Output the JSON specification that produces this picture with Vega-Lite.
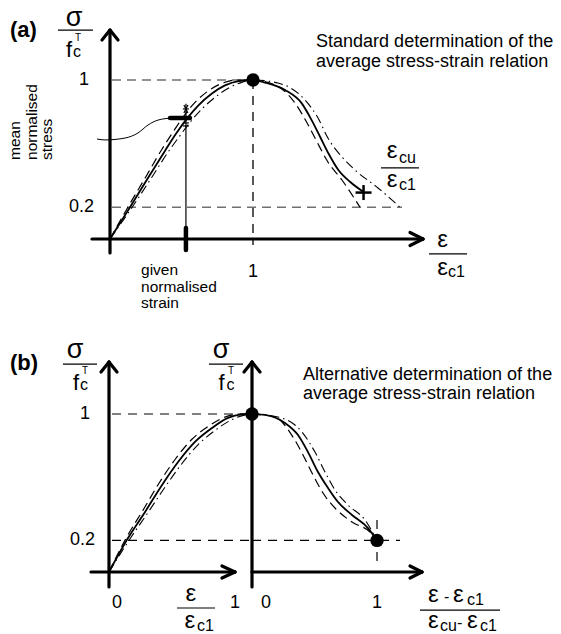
{
"$schema": "https://vega.github.io/schema/vega-lite/v6.json",
"padding": 0,
"spacing": 0,
"bounds": "flush",
"config": {"view": {"stroke": null}, "font": "Liberation Sans", "text": {"font": "Liberation Sans", "color": "black"}},
"datasets": {
"a_curve": [
{"s":"solid","x":0,"y":0},{"s":"solid","x":0.14,"y":0.2},{"s":"solid","x":0.27,"y":0.39},{"s":"solid","x":0.385,"y":0.555},{"s":"solid","x":0.46,"y":0.66},{"s":"solid","x":0.538,"y":0.757},{"s":"solid","x":0.615,"y":0.838},{"s":"solid","x":0.713,"y":0.915},{"s":"solid","x":0.804,"y":0.966},{"s":"solid","x":0.9,"y":0.993},{"s":"solid","x":1,"y":1},{"s":"solid","x":1.084,"y":0.984},{"s":"solid","x":1.224,"y":0.937},{"s":"solid","x":1.341,"y":0.853},{"s":"solid","x":1.41,"y":0.748},{"s":"solid","x":1.469,"y":0.643},{"s":"solid","x":1.527,"y":0.539},{"s":"solid","x":1.597,"y":0.434},{"s":"solid","x":1.678,"y":0.36},{"s":"solid","x":1.771,"y":0.297},
{"s":"dash","x":0,"y":0},{"s":"dash","x":0.125,"y":0.2},{"s":"dash","x":0.25,"y":0.39},{"s":"dash","x":0.36,"y":0.56},{"s":"dash","x":0.435,"y":0.665},{"s":"dash","x":0.51,"y":0.765},{"s":"dash","x":0.585,"y":0.85},{"s":"dash","x":0.685,"y":0.93},{"s":"dash","x":0.785,"y":0.98},{"s":"dash","x":0.89,"y":1.0},{"s":"dash","x":1,"y":1},{"s":"dash","x":1.154,"y":0.969},{"s":"dash","x":1.294,"y":0.855},{"s":"dash","x":1.378,"y":0.73},{"s":"dash","x":1.448,"y":0.61},{"s":"dash","x":1.524,"y":0.484},{"s":"dash","x":1.622,"y":0.371},{"s":"dash","x":1.748,"y":0.2},
{"s":"dot","x":0,"y":0},{"s":"dot","x":0.155,"y":0.2},{"s":"dot","x":0.29,"y":0.385},{"s":"dot","x":0.405,"y":0.545},{"s":"dot","x":0.485,"y":0.645},{"s":"dot","x":0.565,"y":0.74},{"s":"dot","x":0.645,"y":0.82},{"s":"dot","x":0.74,"y":0.895},{"s":"dot","x":0.83,"y":0.95},{"s":"dot","x":0.92,"y":0.985},{"s":"dot","x":1,"y":1},{"s":"dot","x":1.175,"y":0.981},{"s":"dot","x":1.364,"y":0.874},{"s":"dot","x":1.455,"y":0.761},{"s":"dot","x":1.524,"y":0.635},{"s":"dot","x":1.622,"y":0.516},{"s":"dot","x":1.713,"y":0.434},{"s":"dot","x":1.874,"y":0.321},{"s":"dot","x":2.028,"y":0.2}
],
"a_thick": [
{"x":0,"y":-0.088,"x2":0,"y2":1.314},
{"x":-0.126,"y":0,"x2":2.189,"y2":0},
{"x":-0.056,"y":1.252,"x2":0,"y2":1.314},
{"x":0.056,"y":1.252,"x2":0,"y2":1.314},
{"x":2.098,"y":0.041,"x2":2.189,"y2":0},
{"x":2.098,"y":-0.041,"x2":2.189,"y2":0}
],
"a_gray": [
{"x":0.014,"y":1,"x2":1,"y2":1},
{"x":0.014,"y":0.2,"x2":2.042,"y2":0.2}
],
"a_bdash": [
{"x":1,"y":1,"x2":1,"y2":-0.038}
],
"a_thin": [
{"x":-0.364,"y":1.314,"x2":-0.119,"y2":1.314},
{"x":1.895,"y":0.447,"x2":2.161,"y2":0.447},
{"x":2.231,"y":-0.094,"x2":2.497,"y2":-0.094},
{"x":0.531,"y":0.85,"x2":0.531,"y2":0},
{"x":0.51,"y":0.818,"x2":0.552,"y2":0.818},
{"x":0.517,"y":0.843,"x2":0.545,"y2":0.792},
{"x":0.545,"y":0.843,"x2":0.517,"y2":0.792},
{"x":0.51,"y":0.73,"x2":0.552,"y2":0.73},
{"x":0.51,"y":0.711,"x2":0.552,"y2":0.711}
],
"a_heavy": [
{"x":0.531,"y":0.069,"x2":0.531,"y2":-0.069},
{"x":0.42,"y":0.761,"x2":0.559,"y2":0.761}
],
"a_plus": [
{"x":1.717,"y":0.292,"x2":1.829,"y2":0.292},
{"x":1.773,"y":0.245,"x2":1.773,"y2":0.339}
],
"a_leader": [
{"x":-0.091,"y":0.629},{"x":-0.035,"y":0.623},{"x":0.105,"y":0.635},{"x":0.196,"y":0.667},{"x":0.266,"y":0.717},{"x":0.336,"y":0.748},{"x":0.434,"y":0.761}
],
"a_dot": [{"x":1,"y":1}],
"a_bold": [{"x":-0.699,"y":1.27,"t":"(a)"}],
"a_sigma": [{"x":-0.252,"y":1.34,"t":"σ"}],
"a_greek": [
{"x":1.972,"y":0.509,"t":"ε"},
{"x":1.972,"y":0.327,"t":"ε"},
{"x":2.325,"y":-0.05,"t":"ε"},
{"x":2.325,"y":-0.226,"t":"ε"}
],
"a_f": [{"x":-0.287,"y":1.145,"t":"f"}],
"a_sub": [
{"x":-0.259,"y":1.145,"t":"c"},
{"x":2.021,"y":0.478,"t":"cu"},
{"x":2.021,"y":0.308,"t":"c1"},
{"x":2.364,"y":-0.239,"t":"c1"}
],
"a_sup": [{"x":-0.245,"y":1.245,"t":"T"}],
"a_tickr": [
{"x":-0.147,"y":1,"t":"1"},
{"x":-0.112,"y":0.2,"t":"0.2"}
],
"a_tickc": [{"x":1,"y":-0.208,"t":"1"}],
"a_caption": [
{"x":1.441,"y":1.208,"t":"Standard determination of the"},
{"x":1.441,"y":1.082,"t":"average stress-strain relation"}
],
"a_given": [
{"x":0.217,"y":-0.226,"t":"given"},
{"x":0.217,"y":-0.333,"t":"normalised"},
{"x":0.217,"y":-0.434,"t":"strain"}
],
"a_mean": [
{"x":-0.629,"y":0.497,"t":"mean"},
{"x":-0.51,"y":0.497,"t":"normalised"},
{"x":-0.406,"y":0.497,"t":"stress"}
],
"bl_curve": [
{"s":"solid","x":0,"y":0},{"s":"solid","x":0.133,"y":0.215},{"s":"solid","x":0.252,"y":0.38},{"s":"solid","x":0.371,"y":0.551},{"s":"solid","x":0.483,"y":0.696},{"s":"solid","x":0.601,"y":0.823},{"s":"solid","x":0.72,"y":0.911},{"s":"solid","x":0.832,"y":0.975},{"s":"solid","x":0.93,"y":0.997},{"s":"solid","x":1,"y":1},
{"s":"dash","x":0,"y":0},{"s":"dash","x":0.12,"y":0.215},{"s":"dash","x":0.237,"y":0.39},{"s":"dash","x":0.352,"y":0.565},{"s":"dash","x":0.462,"y":0.712},{"s":"dash","x":0.58,"y":0.84},{"s":"dash","x":0.7,"y":0.925},{"s":"dash","x":0.815,"y":0.982},{"s":"dash","x":0.92,"y":1.0},{"s":"dash","x":1,"y":1},
{"s":"dot","x":0,"y":0},{"s":"dot","x":0.147,"y":0.21},{"s":"dot","x":0.268,"y":0.37},{"s":"dot","x":0.39,"y":0.535},{"s":"dot","x":0.503,"y":0.678},{"s":"dot","x":0.622,"y":0.805},{"s":"dot","x":0.74,"y":0.895},{"s":"dot","x":0.85,"y":0.96},{"s":"dot","x":0.945,"y":0.993},{"s":"dot","x":1,"y":1}
],
"bl_thick": [
{"x":0,"y":-0.095,"x2":0,"y2":1.329},
{"x":-0.126,"y":0,"x2":0.881,"y2":0},
{"x":-0.056,"y":1.266,"x2":0,"y2":1.329},
{"x":0.056,"y":1.266,"x2":0,"y2":1.329},
{"x":0.79,"y":0.038,"x2":0.881,"y2":0},
{"x":0.79,"y":-0.038,"x2":0.881,"y2":0}
],
"bl_dash": [
{"x":0.021,"y":1,"x2":1,"y2":1},
{"x":0.021,"y":0.2,"x2":1,"y2":0.2}
],
"bl_thin": [
{"x":-0.322,"y":1.316,"x2":-0.084,"y2":1.316},
{"x":0.699,"y":1.316,"x2":0.937,"y2":1.316},
{"x":0.476,"y":-0.228,"x2":0.741,"y2":-0.228}
],
"bl_bold": [{"x":-0.692,"y":1.278,"t":"(b)"}],
"bl_sigma": [
{"x":-0.238,"y":1.354,"t":"σ"},
{"x":0.783,"y":1.354,"t":"σ"}
],
"bl_greek": [
{"x":0.573,"y":-0.184,"t":"ε"},
{"x":0.566,"y":-0.354,"t":"ε"}
],
"bl_f": [
{"x":-0.231,"y":1.152,"t":"f"},
{"x":0.787,"y":1.152,"t":"f"}
],
"bl_sub": [
{"x":-0.203,"y":1.152,"t":"c"},
{"x":0.822,"y":1.152,"t":"c"},
{"x":0.615,"y":-0.373,"t":"c1"}
],
"bl_sup": [
{"x":-0.189,"y":1.253,"t":"T"},
{"x":0.832,"y":1.253,"t":"T"}
],
"bl_tickr": [
{"x":-0.133,"y":1,"t":"1"},
{"x":-0.098,"y":0.2,"t":"0.2"}
],
"bl_tickc": [
{"x":0.056,"y":-0.196,"t":"0"},
{"x":0.881,"y":-0.196,"t":"1"}
],
"br_curve": [
{"s":"solid","x":0,"y":1},{"s":"solid","x":0.104,"y":0.994},{"s":"solid","x":0.264,"y":0.943},{"s":"solid","x":0.368,"y":0.867},{"s":"solid","x":0.448,"y":0.759},{"s":"solid","x":0.528,"y":0.633},{"s":"solid","x":0.608,"y":0.532},{"s":"solid","x":0.688,"y":0.443},{"s":"solid","x":0.8,"y":0.361},{"s":"solid","x":0.928,"y":0.278},{"s":"solid","x":1,"y":0.2},
{"s":"dash","x":0,"y":1},{"s":"dash","x":0.184,"y":0.981},{"s":"dash","x":0.328,"y":0.854},{"s":"dash","x":0.408,"y":0.741},{"s":"dash","x":0.488,"y":0.614},{"s":"dash","x":0.568,"y":0.5},{"s":"dash","x":0.664,"y":0.405},{"s":"dash","x":0.8,"y":0.316},{"s":"dash","x":0.944,"y":0.253},{"s":"dash","x":1,"y":0.2},
{"s":"dot","x":0,"y":1},{"s":"dot","x":0.208,"y":0.981},{"s":"dot","x":0.4,"y":0.886},{"s":"dot","x":0.504,"y":0.759},{"s":"dot","x":0.584,"y":0.633},{"s":"dot","x":0.664,"y":0.519},{"s":"dot","x":0.768,"y":0.424},{"s":"dot","x":0.904,"y":0.329},{"s":"dot","x":1,"y":0.2}
],
"br_thick": [
{"x":0,"y":-0.095,"x2":0,"y2":1.329},
{"x":0,"y":0,"x2":1.36,"y2":0},
{"x":-0.064,"y":1.266,"x2":0,"y2":1.329},
{"x":0.064,"y":1.266,"x2":0,"y2":1.329},
{"x":1.264,"y":0.038,"x2":1.36,"y2":0},
{"x":1.264,"y":-0.038,"x2":1.36,"y2":0}
],
"br_dash": [
{"x":0,"y":0.2,"x2":1.184,"y2":0.2},
{"x":1,"y":0.329,"x2":1,"y2":0.057}
],
"br_thin": [
{"x":1.344,"y":-0.241,"x2":1.984,"y2":-0.241}
],
"br_dots": [{"x":0,"y":1},{"x":1,"y":0.2}],
"br_tickc": [
{"x":0.112,"y":-0.196,"t":"0"},
{"x":1,"y":-0.196,"t":"1"}
],
"br_greek": [
{"x":1.408,"y":-0.19,"t":"ε"},
{"x":1.608,"y":-0.19,"t":"ε"},
{"x":1.408,"y":-0.354,"t":"ε"},
{"x":1.72,"y":-0.354,"t":"ε"}
],
"br_minus": [
{"x":1.536,"y":-0.19,"t":"-"},
{"x":1.64,"y":-0.354,"t":"-"}
],
"br_sub": [
{"x":1.72,"y":-0.209,"t":"c1"},
{"x":1.504,"y":-0.373,"t":"cu"},
{"x":1.824,"y":-0.373,"t":"c1"}
],
"br_caption": [
{"x":0.408,"y":1.215,"t":"Alternative determination of the"},
{"x":0.408,"y":1.095,"t":"average stress-strain relation"}
]
},
"vconcat": [
{
"width": 561,
"height": 310,
"encoding": {
"x": {"field":"x","type":"quantitative","scale":{"domain":[-0.76923,3.15385],"nice":false,"zero":false},"axis":null},
"y": {"field":"y","type":"quantitative","scale":{"domain":[-0.44654,1.50314],"nice":false,"zero":false},"axis":null}
},
"layer": [
{"data":{"name":"a_gray"},"mark":{"type":"rule","color":"#707070","strokeWidth":1.5,"strokeDash":[9,6]},"encoding":{"x2":{"field":"x2"},"y2":{"field":"y2"}}},
{"data":{"name":"a_bdash"},"mark":{"type":"rule","color":"black","strokeWidth":1.3,"strokeDash":[9,7]},"encoding":{"x2":{"field":"x2"},"y2":{"field":"y2"}}},
{"data":{"name":"a_thin"},"mark":{"type":"rule","color":"black","strokeWidth":1.2},"encoding":{"x2":{"field":"x2"},"y2":{"field":"y2"}}},
{"data":{"name":"a_curve"},"transform":[{"filter":"datum.s === 'dash'"}],"mark":{"type":"line","color":"black","strokeWidth":1.2,"strokeDash":[9,5],"interpolate":"monotone"}},
{"data":{"name":"a_curve"},"transform":[{"filter":"datum.s === 'dot'"}],"mark":{"type":"line","color":"black","strokeWidth":1.1,"strokeDash":[9,4,1.5,4],"interpolate":"monotone"}},
{"data":{"name":"a_curve"},"transform":[{"filter":"datum.s === 'solid'"}],"mark":{"type":"line","color":"black","strokeWidth":1.8,"interpolate":"monotone"}},
{"data":{"name":"a_leader"},"mark":{"type":"line","color":"black","strokeWidth":1,"interpolate":"monotone"}},
{"data":{"name":"a_heavy"},"mark":{"type":"rule","color":"black","strokeWidth":4.5,"strokeCap":"round"},"encoding":{"x2":{"field":"x2"},"y2":{"field":"y2"}}},
{"data":{"name":"a_plus"},"mark":{"type":"rule","color":"black","strokeWidth":2.5},"encoding":{"x2":{"field":"x2"},"y2":{"field":"y2"}}},
{"data":{"name":"a_thick"},"mark":{"type":"rule","color":"black","strokeWidth":3.2,"strokeCap":"round"},"encoding":{"x2":{"field":"x2"},"y2":{"field":"y2"}}},
{"data":{"name":"a_dot"},"mark":{"type":"circle","color":"black","opacity":1,"size":180}},
{"data":{"name":"a_bold"},"mark":{"type":"text","fontSize":22,"fontWeight":"bold","align":"left","baseline":"alphabetic"},"encoding":{"text":{"field":"t"}}},
{"data":{"name":"a_sigma"},"mark":{"type":"text","fontSize":27,"align":"center","baseline":"alphabetic"},"encoding":{"text":{"field":"t"}}},
{"data":{"name":"a_greek"},"mark":{"type":"text","fontSize":24,"align":"center","baseline":"alphabetic"},"encoding":{"text":{"field":"t"}}},
{"data":{"name":"a_f"},"mark":{"type":"text","fontSize":22,"align":"center","baseline":"alphabetic"},"encoding":{"text":{"field":"t"}}},
{"data":{"name":"a_sub"},"mark":{"type":"text","fontSize":16,"align":"left","baseline":"alphabetic"},"encoding":{"text":{"field":"t"}}},
{"data":{"name":"a_sup"},"mark":{"type":"text","fontSize":10,"align":"left","baseline":"alphabetic"},"encoding":{"text":{"field":"t"}}},
{"data":{"name":"a_tickr"},"mark":{"type":"text","fontSize":18,"align":"right","baseline":"middle"},"encoding":{"text":{"field":"t"}}},
{"data":{"name":"a_tickc"},"mark":{"type":"text","fontSize":18,"align":"center","baseline":"middle"},"encoding":{"text":{"field":"t"}}},
{"data":{"name":"a_caption"},"mark":{"type":"text","fontSize":18,"align":"left","baseline":"alphabetic"},"encoding":{"text":{"field":"t"}}},
{"data":{"name":"a_given"},"mark":{"type":"text","fontSize":15.5,"align":"left","baseline":"alphabetic"},"encoding":{"text":{"field":"t"}}},
{"data":{"name":"a_mean"},"mark":{"type":"text","fontSize":15.5,"align":"left","baseline":"alphabetic","angle":270},"encoding":{"text":{"field":"t"}}}
]
},
{
"spacing": 0,
"bounds": "flush",
"hconcat": [
{
"width": 252,
"height": 324,
"encoding": {
"x": {"field":"x","type":"quantitative","scale":{"domain":[-0.76224,1.0],"nice":false,"zero":false},"axis":null},
"y": {"field":"y","type":"quantitative","scale":{"domain":[-0.39241,1.65823],"nice":false,"zero":false},"axis":null}
},
"layer": [
{"data":{"name":"bl_dash"},"mark":{"type":"rule","color":"black","strokeWidth":1.2,"strokeDash":[9,7]},"encoding":{"x2":{"field":"x2"},"y2":{"field":"y2"}}},
{"data":{"name":"bl_thin"},"mark":{"type":"rule","color":"black","strokeWidth":1.2},"encoding":{"x2":{"field":"x2"},"y2":{"field":"y2"}}},
{"data":{"name":"bl_curve"},"transform":[{"filter":"datum.s === 'dash'"}],"mark":{"type":"line","color":"black","strokeWidth":1.2,"strokeDash":[9,5],"interpolate":"monotone"}},
{"data":{"name":"bl_curve"},"transform":[{"filter":"datum.s === 'dot'"}],"mark":{"type":"line","color":"black","strokeWidth":1.1,"strokeDash":[9,4,1.5,4],"interpolate":"monotone"}},
{"data":{"name":"bl_curve"},"transform":[{"filter":"datum.s === 'solid'"}],"mark":{"type":"line","color":"black","strokeWidth":1.8,"interpolate":"monotone"}},
{"data":{"name":"bl_thick"},"mark":{"type":"rule","color":"black","strokeWidth":3.2,"strokeCap":"round"},"encoding":{"x2":{"field":"x2"},"y2":{"field":"y2"}}},
{"data":{"name":"bl_bold"},"mark":{"type":"text","fontSize":22,"fontWeight":"bold","align":"left","baseline":"alphabetic"},"encoding":{"text":{"field":"t"}}},
{"data":{"name":"bl_sigma"},"mark":{"type":"text","fontSize":27,"align":"center","baseline":"alphabetic"},"encoding":{"text":{"field":"t"}}},
{"data":{"name":"bl_greek"},"mark":{"type":"text","fontSize":24,"align":"center","baseline":"alphabetic"},"encoding":{"text":{"field":"t"}}},
{"data":{"name":"bl_f"},"mark":{"type":"text","fontSize":22,"align":"center","baseline":"alphabetic"},"encoding":{"text":{"field":"t"}}},
{"data":{"name":"bl_sub"},"mark":{"type":"text","fontSize":16,"align":"left","baseline":"alphabetic"},"encoding":{"text":{"field":"t"}}},
{"data":{"name":"bl_sup"},"mark":{"type":"text","fontSize":10,"align":"left","baseline":"alphabetic"},"encoding":{"text":{"field":"t"}}},
{"data":{"name":"bl_tickr"},"mark":{"type":"text","fontSize":18,"align":"right","baseline":"middle"},"encoding":{"text":{"field":"t"}}},
{"data":{"name":"bl_tickc"},"mark":{"type":"text","fontSize":18,"align":"center","baseline":"middle"},"encoding":{"text":{"field":"t"}}}
]
},
{
"width": 309,
"height": 324,
"encoding": {
"x": {"field":"x","type":"quantitative","scale":{"domain":[0,2.472],"nice":false,"zero":false},"axis":null},
"y": {"field":"y","type":"quantitative","scale":{"domain":[-0.39241,1.65823],"nice":false,"zero":false},"axis":null}
},
"layer": [
{"data":{"name":"br_dash"},"mark":{"type":"rule","color":"black","strokeWidth":1.2,"strokeDash":[9,7]},"encoding":{"x2":{"field":"x2"},"y2":{"field":"y2"}}},
{"data":{"name":"br_thin"},"mark":{"type":"rule","color":"black","strokeWidth":1.2},"encoding":{"x2":{"field":"x2"},"y2":{"field":"y2"}}},
{"data":{"name":"br_curve"},"transform":[{"filter":"datum.s === 'dash'"}],"mark":{"type":"line","color":"black","strokeWidth":1.2,"strokeDash":[9,5],"interpolate":"monotone"}},
{"data":{"name":"br_curve"},"transform":[{"filter":"datum.s === 'dot'"}],"mark":{"type":"line","color":"black","strokeWidth":1.1,"strokeDash":[9,4,1.5,4],"interpolate":"monotone"}},
{"data":{"name":"br_curve"},"transform":[{"filter":"datum.s === 'solid'"}],"mark":{"type":"line","color":"black","strokeWidth":1.8,"interpolate":"monotone"}},
{"data":{"name":"br_thick"},"mark":{"type":"rule","color":"black","strokeWidth":3.2,"strokeCap":"round"},"encoding":{"x2":{"field":"x2"},"y2":{"field":"y2"}}},
{"data":{"name":"br_dots"},"mark":{"type":"circle","color":"black","opacity":1,"size":180}},
{"data":{"name":"br_tickc"},"mark":{"type":"text","fontSize":18,"align":"center","baseline":"middle"},"encoding":{"text":{"field":"t"}}},
{"data":{"name":"br_greek"},"mark":{"type":"text","fontSize":24,"align":"left","baseline":"alphabetic"},"encoding":{"text":{"field":"t"}}},
{"data":{"name":"br_minus"},"mark":{"type":"text","fontSize":16,"align":"left","baseline":"alphabetic"},"encoding":{"text":{"field":"t"}}},
{"data":{"name":"br_sub"},"mark":{"type":"text","fontSize":16,"align":"left","baseline":"alphabetic"},"encoding":{"text":{"field":"t"}}},
{"data":{"name":"br_caption"},"mark":{"type":"text","fontSize":18,"align":"left","baseline":"alphabetic"},"encoding":{"text":{"field":"t"}}}
]
}
]
}
]
}
